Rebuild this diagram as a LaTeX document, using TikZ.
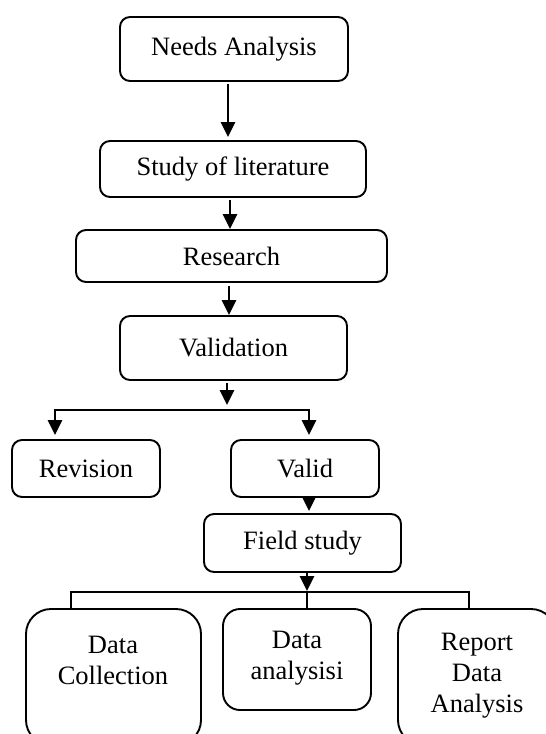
\documentclass[tikz,border=0pt]{standalone}
\usepackage{fontspec}
\setmainfont{Liberation Serif}
\usetikzlibrary{arrows.meta}
\begin{document}
\begin{tikzpicture}[x=1pt,y=-1pt,
  box/.style={draw, line width=1.9pt, rounded corners=10pt, inner sep=0pt, align=center,
    font=\fontsize{26.5}{31}\selectfont},
  bigbox/.style={draw, line width=1.9pt, inner sep=0pt},
  lbl/.style={inner sep=0pt, align=center, font=\fontsize{26.5}{31}\selectfont},
  arr/.style={line width=2.7pt, -{Triangle[width=14pt,length=15pt]}},
  ln/.style={line width=1.9pt}]
\clip (0,0) rectangle (546,734);
% main column
\node[box, minimum width=228pt, minimum height=64pt] (na) at (234,49) {Needs Analysis};
\node[box, minimum width=266pt, minimum height=56pt] (sl) at (233,169) {Study of literature};
\node[box, minimum width=311pt, minimum height=52pt] (rs) at (231.5,256) {Research};
\node[box, minimum width=227pt, minimum height=64pt] (va) at (233.5,348) {Validation};
\node[box, minimum width=148pt, minimum height=57pt] (rv) at (86,468.5) {Revision};
\node[box, minimum width=148pt, minimum height=57pt] (vl) at (305,468.5) {Valid};
\node[box, minimum width=197pt, minimum height=58pt] (fs) at (302.5,543) {Field study};
% bottom boxes
\node[bigbox, rounded corners=25pt, minimum width=175pt, minimum height=136pt] (dc) at (113.5,677) {};
\node[bigbox, rounded corners=17pt, minimum width=148pt, minimum height=101pt] (da) at (297,659.5) {};
\node[bigbox, rounded corners=25pt, minimum width=158pt, minimum height=136pt] (rp) at (477,677) {};
\node[lbl] (dct) at (113,660) {Data\\Collection};
\node[lbl] (dat) at (297,658) {Data\\analysisi};
\node[lbl] (rpt) at (477,676) {Report\\Data\\Analysis};
% connector columns
\coordinate (a1) at (228,0);
\coordinate (a2) at (230,0);
\coordinate (a3) at (229,0);
\coordinate (jv) at (227,410);
\coordinate (j1) at (55,410);
\coordinate (j2) at (309,410);
\coordinate (a5) at (309,0);
\coordinate (jf) at (307,592);
\coordinate (k1) at (71,592);
\coordinate (k3) at (469,592);
% arrows
\draw[arr, shorten <=2pt, shorten >=3pt] (na.south -| a1) -- (sl.north -| a1);
\draw[arr, shorten <=2pt] (sl.south -| a2) -- (rs.north -| a2);
\draw[arr, shorten <=3pt] (rs.south -| a3) -- (va.north -| a3);
\draw[arr, shorten <=2pt, shorten >=5pt] (va.south -| jv) -- (jv);
\draw[line width=2.7pt, {Triangle[width=14pt,length=15pt]}-{Triangle[width=14pt,length=15pt]},
  shorten <=4pt, shorten >=4pt] (rv.north -| j1) -- (j1) -- (j2) -- (vl.north -| j2);
\draw[arr, shorten >=2pt] (vl.south -| a5) -- (fs.north -| a5);
\draw[arr, shorten >=1pt] (fs.south -| jf) -- (jf);
\draw[ln] (dc.north -| k1) -- (k1) -- (k3) -- (rp.north -| k3);
\draw[ln] (jf) -- (da.north -| jf);
\end{tikzpicture}
\end{document}
